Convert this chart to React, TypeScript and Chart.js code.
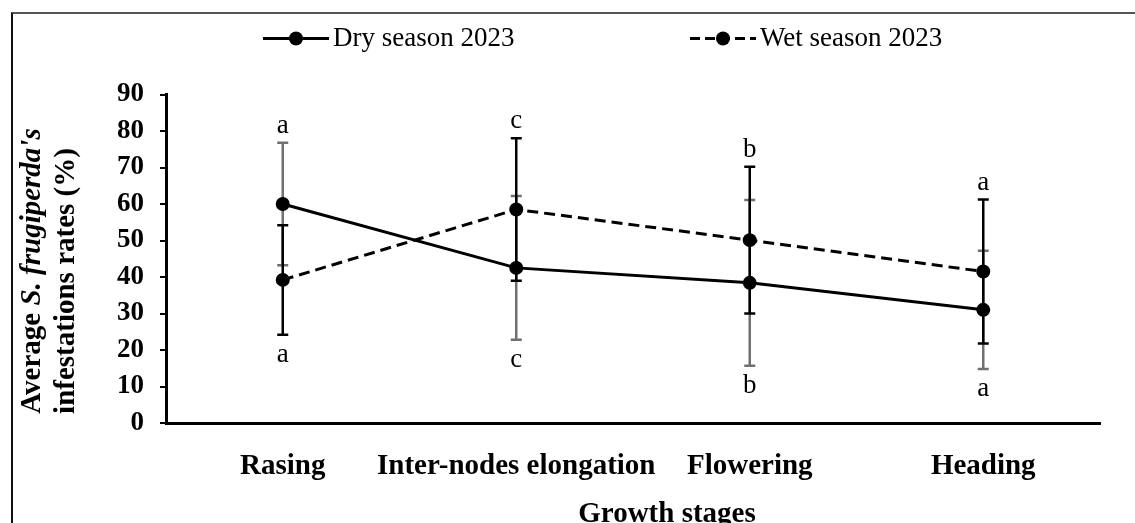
import React, { useEffect, useRef } from "react";
import { Chart, registerables } from "chart.js";

Chart.register(...registerables);

// ---- data ----
const categories = ["Rasing", "Inter-nodes elongation", "Flowering", "Heading"];
const seriesNames = ["Dry season 2023", "Wet season 2023"];
const drySeason = [60.0, 42.5, 38.4, 31.0];
const dryError = [16.8, 19.7, 22.7, 16.2];
const wetSeason = [39.2, 58.5, 50.1, 41.5];
const wetError = [15.0, 19.5, 20.1, 19.7];
const lettersAbove = ["a", "c", "b", "a"];
const lettersBelow = ["a", "c", "b", "a"];
const yMin = 0;
const yMax = 90;
const yStep = 10;
const xTitle = "Growth stages";
const yTitleLine1 = [
  { text: "Average ", italic: false },
  { text: "S. frugiperda's", italic: true },
];
const yTitleLine2 = "infestations rates (%)";

const SERIF = "'Liberation Serif', 'Times New Roman', serif";

const errorBarsPlugin = {
  id: "errorBars",
  beforeDatasetsDraw(chart: any) {
    const { ctx, scales } = chart;
    const xs = scales.x;
    const ys = scales.y;
    const sets = [
      { vals: drySeason, errs: dryError, color: "#707070", width: 2.5 },
      { vals: wetSeason, errs: wetError, color: "#000000", width: 2.5 },
    ];
    ctx.save();
    for (const s of sets) {
      ctx.strokeStyle = s.color;
      ctx.lineWidth = s.width;
      s.vals.forEach((v, i) => {
        const x = xs.getPixelForValue(i);
        const yh = ys.getPixelForValue(v + s.errs[i]);
        const yl = ys.getPixelForValue(v - s.errs[i]);
        ctx.beginPath();
        ctx.moveTo(x, yh);
        ctx.lineTo(x, yl);
        ctx.moveTo(x - 5.5, yh);
        ctx.lineTo(x + 5.5, yh);
        ctx.moveTo(x - 5.5, yl);
        ctx.lineTo(x + 5.5, yl);
        ctx.stroke();
      });
    }
    ctx.restore();
  },
};

const lettersPlugin = {
  id: "letters",
  afterDatasetsDraw(chart: any) {
    const { ctx, scales } = chart;
    const xs = scales.x;
    const ys = scales.y;
    ctx.save();
    ctx.fillStyle = "#000";
    ctx.font = `27px ${SERIF}`;
    ctx.textAlign = "center";
    ctx.textBaseline = "alphabetic";
    categories.forEach((_, i) => {
      const x = xs.getPixelForValue(i);
      const hi = Math.max(drySeason[i] + dryError[i], wetSeason[i] + wetError[i]);
      const lo = Math.min(drySeason[i] - dryError[i], wetSeason[i] - wetError[i]);
      ctx.fillText(lettersAbove[i], x, ys.getPixelForValue(hi) - 10);
      ctx.fillText(lettersBelow[i], x, ys.getPixelForValue(lo) + 27);
    });
    ctx.restore();
  },
};

const decorPlugin = {
  id: "decor",
  afterDraw(chart: any) {
    const { ctx, chartArea } = chart;
    ctx.save();
    // legend
    const items = [
      { name: seriesNames[0], x: 263, dash: [] as number[] },
      { name: seriesNames[1], x: 690, dash: [10, 5] },
    ];
    const ly = 38.5;
    items.forEach((it) => {
      ctx.strokeStyle = "#000";
      ctx.lineWidth = 3;
      ctx.setLineDash(it.dash);
      ctx.beginPath();
      ctx.moveTo(it.x, ly);
      ctx.lineTo(it.x + 66, ly);
      ctx.stroke();
      ctx.setLineDash([]);
      ctx.fillStyle = "#000";
      ctx.beginPath();
      ctx.arc(it.x + 33, ly, 7, 0, Math.PI * 2);
      ctx.fill();
      ctx.font = `27px ${SERIF}`;
      ctx.textAlign = "left";
      ctx.textBaseline = "middle";
      ctx.fillText(it.name, it.x + 70, ly);
    });

    // x title
    ctx.font = `bold 29px ${SERIF}`;
    ctx.textAlign = "center";
    ctx.textBaseline = "alphabetic";
    ctx.fillText(xTitle, (chartArea.left + chartArea.right) / 2 + 34, 522);

    // y title (rotated, two lines, mixed italic)
    const yc1 = 271;
    const yc2 = 281;
    const drawRich = (segs: { text: string; italic: boolean }[], cx: number, cy: number) => {
      const widths = segs.map((s) => {
        ctx.font = `${s.italic ? "italic " : ""}bold 29px ${SERIF}`;
        return ctx.measureText(s.text).width;
      });
      const total = widths.reduce((a, b) => a + b, 0);
      ctx.save();
      ctx.translate(cx, cy);
      ctx.rotate(-Math.PI / 2);
      ctx.textAlign = "left";
      ctx.textBaseline = "middle";
      let pos = -total / 2;
      segs.forEach((s, k) => {
        ctx.font = `${s.italic ? "italic " : ""}bold 29px ${SERIF}`;
        ctx.fillText(s.text, pos, 0);
        pos += widths[k];
      });
      ctx.restore();
    };
    drawRich(yTitleLine1, 33, yc1);
    drawRich([{ text: yTitleLine2, italic: false }], 67, yc2);
    ctx.restore();
  },
};

export default function App() {
  const ref = useRef<HTMLCanvasElement>(null);
  useEffect(() => {
    if (!ref.current) return;
    const chart = new Chart(ref.current, {
      type: "line",
      data: {
        labels: categories,
        datasets: [
          {
            label: seriesNames[0],
            data: drySeason,
            borderColor: "#000",
            backgroundColor: "#000",
            borderWidth: 3,
            pointRadius: 7,
            pointBackgroundColor: "#000",
            pointBorderWidth: 0,
            tension: 0,
          },
          {
            label: seriesNames[1],
            data: wetSeason,
            borderColor: "#000",
            backgroundColor: "#000",
            borderWidth: 3,
            borderDash: [11, 6],
            pointRadius: 7,
            pointBackgroundColor: "#000",
            pointBorderWidth: 0,
            tension: 0,
          },
        ],
      },
      options: {
        responsive: false,
        animation: false,
        devicePixelRatio: 1,
        layout: { padding: { left: 46, right: 35, top: 94.5, bottom: 0 } },
        plugins: { legend: { display: false }, tooltip: { enabled: false } },
        scales: {
          x: {
            offset: true,
            grid: { display: false, drawTicks: false },
            border: { display: true, color: "#000", width: 3 },
            ticks: {
              color: "#000",
              font: { family: SERIF, size: 29, weight: "bold" },
              padding: 26,
              maxRotation: 0,
              minRotation: 0,
              autoSkip: false,
            },
            afterFit: (s: any) => {
              s.height = 100;
            },
          },
          y: {
            min: yMin,
            max: yMax,
            ticks: {
              stepSize: yStep,
              color: "#000",
              font: { family: SERIF, size: 27, weight: "bold" },
              padding: 16,
            },
            grid: {
              display: true,
              drawOnChartArea: false,
              drawTicks: true,
              tickLength: 6,
              color: "#000",
              lineWidth: 2,
            },
            border: { display: true, color: "#000", width: 3 },
            afterFit: (s: any) => {
              s.width = 120;
            },
          },
        },
      },
      plugins: [errorBarsPlugin, lettersPlugin, decorPlugin],
    } as any);
    return () => chart.destroy();
  }, []);

  return (
    <div
      style={{
        position: "fixed",
        left: 0,
        top: 0,
        width: 1135,
        height: 523,
        background: "#fff",
        overflow: "hidden",
      }}
    >
      <div
        style={{
          position: "absolute",
          left: 11,
          top: 12,
          width: 1200,
          height: 600,
          borderLeft: "2px solid #111",
          borderTop: "2px solid #555",
        }}
      />
      <canvas
        ref={ref}
        width={1135}
        height={523}
        style={{ position: "absolute", left: 0, top: 0, display: "block" }}
      />
    </div>
  );
}
